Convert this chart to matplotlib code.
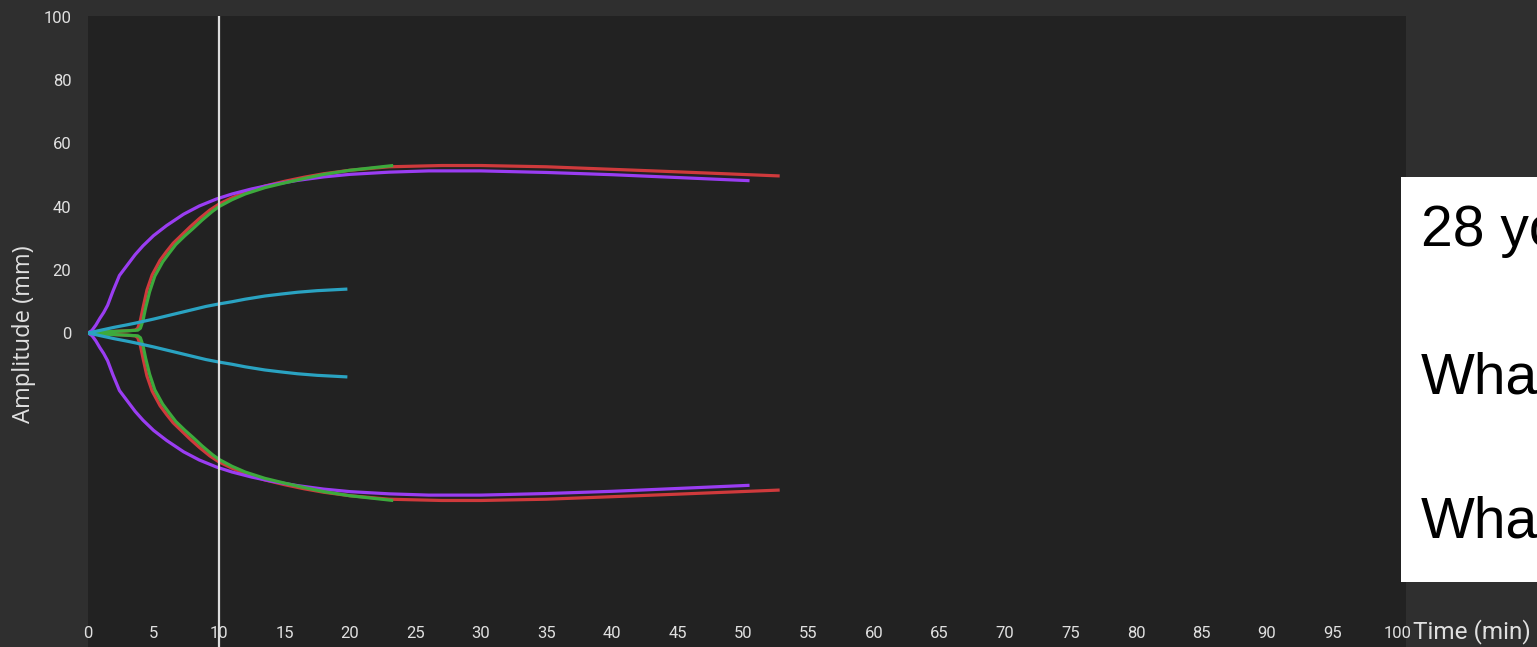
import matplotlib
matplotlib.use("Agg")
import matplotlib.pyplot as plt
from matplotlib.patches import Rectangle
import numpy as np

# ---------------- data ----------------
x_ticks = [0, 5, 10, 15, 20, 25, 30, 35, 40, 45, 50, 55, 60, 65, 70, 75, 80, 85, 90, 95, 100]
y_ticks = [0, 20, 40, 60, 80, 100]
marker_time = 10

purple_t = [0, 0.3, 0.6, 0.9, 1.2, 1.5, 1.9, 2.4, 3.0, 3.6, 4.2, 5.0, 6.0, 7.3, 8.5, 9.8,
            11, 12.5, 14, 16, 18, 20, 23, 26, 30, 35, 40, 45, 50.5]
purple_a = [0, 0.8, 2.5, 4.6, 6.5, 8.8, 13.2, 18.2, 21.5, 24.8, 27.6, 30.8, 34.0, 37.6, 40.2, 42.4,
            44.0, 45.6, 46.9, 48.3, 49.4, 50.2, 50.9, 51.3, 51.3, 50.8, 50.1, 49.2, 48.2]

red_t = [0, 1, 2, 3, 3.6, 3.8, 4.0, 4.2, 4.5, 4.9, 5.5, 6.0, 6.5, 7.2, 7.8, 8.5, 9.3, 10,
         11, 12, 13.5, 15, 16.5, 18, 20, 23, 27, 30, 35, 40, 45, 52.8]
red_a = [0, 0.3, 0.5, 0.7, 0.9, 1.5, 4.0, 8.0, 13.6, 18.4, 23.0, 25.8, 28.4, 31.2, 33.6, 36.2, 38.9, 40.8,
         42.8, 44.5, 46.5, 48.0, 49.3, 50.4, 51.5, 52.6, 53.0, 53.0, 52.6, 51.8, 51.0, 49.7]

green_t = [0, 1, 2, 3, 3.8, 4.0, 4.2, 4.4, 4.7, 5.1, 5.7, 6.2, 6.7, 7.4, 8.0, 8.7, 9.5, 10,
           11, 12, 13.5, 15, 16.5, 18, 20, 23.3]
green_a = [0, 0.3, 0.5, 0.7, 0.9, 1.5, 4.0, 8.0, 13.0, 18.0, 22.5, 25.3, 28.0, 30.8, 33.0, 35.7, 38.5, 40.0,
           42.2, 44.0, 46.0, 47.5, 48.9, 50.2, 51.5, 53.0]

cyan_t = [0, 1, 2, 3, 3.7, 5, 6, 7, 8, 9, 10, 11, 12, 13.5, 14.7, 16, 17.5, 19.8]
cyan_a = [0, 0.9, 1.8, 2.6, 3.2, 4.4, 5.4, 6.4, 7.4, 8.4, 9.2, 9.9, 10.7, 11.7, 12.3, 12.9, 13.4, 13.9]

box_lines = ["28 yo", "What", "What"]

# ---------------- style ----------------
W, H = 1537, 647
fig = plt.figure(figsize=(W / 100, H / 100), dpi=100)
fig.patch.set_facecolor("#2f2f2f")

ax = fig.add_axes([88 / W, 0, 1318 / W, (H - 16) / H])
ax.set_facecolor("#222222")
for s in ax.spines.values():
    s.set_visible(False)

px_per_min = 13.1
ax.set_xlim(0, 1318 / px_per_min)
ax.set_ylim(-(H - 333) / 3.16, (333 - 16) / 3.16)

series = [
    (red_t, red_a, "#cf3a3c", 1),
    (purple_t, purple_a, "#9a3df2", 2),
    (green_t, green_a, "#3daa3c", 3),
    (cyan_t, cyan_a, "#2aa3c2", 4),
]
for t, a, c, z in series:
    t = np.asarray(t)
    a = np.asarray(a)
    for sign in (1, -1):
        ax.plot(t, sign * a, color=c, lw=2.3, zorder=z,
                solid_capstyle="butt", solid_joinstyle="round")

ax.axvline(marker_time, color="#dddddd", lw=1.6, zorder=5)

ax.set_xticks(x_ticks)
ax.set_xticklabels([str(v) for v in x_ticks], fontsize=12, color="#e0e0e0",
                   family="Roboto")
ax.tick_params(axis="x", direction="in", length=0, pad=-15)
ax.set_yticks(y_ticks)
ax.set_yticklabels([str(v) for v in y_ticks], fontsize=12, color="#e0e0e0",
                   family="Roboto")
ax.tick_params(axis="y", length=0, pad=12)

fig.text(24 / W, 1 - 334 / H, "Amplitude (mm)", rotation=90, ha="center", va="center",
         fontsize=17, color="#e0e0e0", family="Open Sans")
fig.text(1413 / W, 1 - 632 / H, "Time (min)", ha="left", va="center",
         fontsize=17.5, color="#e0e0e0", family="Roboto")

# white info box (clipped at figure edge)
fig.patches.append(Rectangle((1401 / W, 1 - 582 / H), (W - 1401) / W, 405 / H,
                             transform=fig.transFigure, facecolor="white",
                             edgecolor="none", zorder=10))
for txt, base in zip(box_lines, [246, 394, 538]):
    fig.text(1421 / W, 1 - base / H, txt, ha="left", va="baseline",
             fontsize=41, color="black", family="Liberation Sans", zorder=11)

fig.savefig("out.png", dpi=100, facecolor=fig.get_facecolor())
